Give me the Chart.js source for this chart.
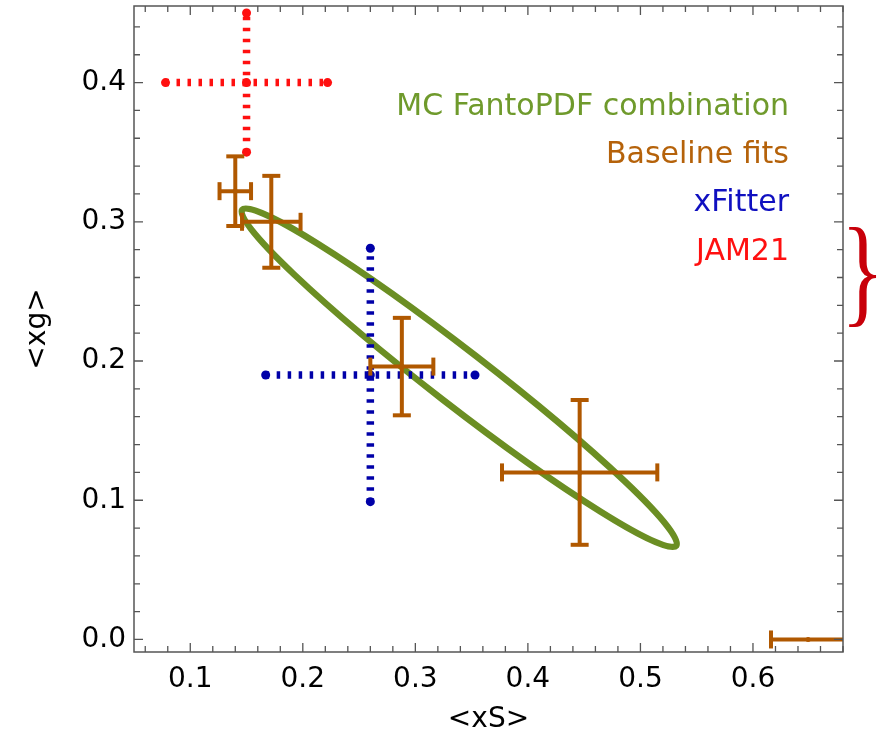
<!DOCTYPE html>
<html>
<head>
<meta charset="utf-8">
<script src="https://cdn.jsdelivr.net/npm/chart.js@4.4.0/dist/chart.umd.min.js"></script>
<style>
  html, body { margin: 0; padding: 0; background: #fff; }
  #wrap { width: 895px; height: 741px; position: relative; }
</style>
</head>
<body>
<div id="wrap"><canvas id="chart"></canvas></div>
<script>
// Baseline fits (orange crosses)
const baseX    = [0.140, 0.172, 0.288, 0.446, 0.649];
const baseY    = [0.322, 0.300, 0.196, 0.120, 0.000];
const baseXErr = [0.014, 0.026, 0.028, 0.069, 0.033];
const baseYErr = [0.025, 0.033, 0.035, 0.052, 0.000];

// xFitter (blue dotted cross)
const xfX = [0.260], xfY = [0.190], xfXErr = [0.093], xfYErr = [0.091];

// JAM21 (red dotted cross)
const jamX = [0.150], jamY = [0.400], jamXErr = [0.072], jamYErr = [0.050];

// MC FantoPDF combination ellipse: centre and the two semi-axis vectors
const ellCentre = [0.339, 0.188];
const ellMajor  = [0.1928, -0.1206];
const ellMinor  = [-0.0150, -0.0155];

const legendLabels = ['MC FantoPDF combination', 'Baseline fits', 'xFitter', 'JAM21'];
const legendColors = ['#6f9a2c', '#b5620a', '#1010c0', '#ff1010'];

const xTicks = [0.1, 0.2, 0.3, 0.4, 0.5, 0.6];
const yTicks = [0.0, 0.1, 0.2, 0.3, 0.4];

const orange = '#b05800', blue = '#0000a8', red = '#ff1010', green = '#6b8e23';
const FONT = 'DejaVu Sans';

// build one dataset per error bar
function errorBars(xs, ys, xe, ye, st) {
  const sets = [];
  xs.forEach((x, i) => {
    const y = ys[i];
    if (ye[i] > 0) {
      sets.push(Object.assign({
        data: [{x: x, y: y - ye[i]}, {x: x, y: y + ye[i]}],
        pointRotation: 0
      }, st));
    }
    if (xe[i] > 0) {
      sets.push(Object.assign({
        data: [{x: x - xe[i], y: y}, {x: x + xe[i], y: y}],
        pointRotation: 90
      }, st));
    }
    sets.push({
      data: [{x: x, y: y}], showLine: false,
      pointRadius: st.dotted ? 4.5 : 2.5, pointBackgroundColor: st.borderColor,
      pointBorderWidth: 0
    });
  });
  return sets;
}

const solidStyle = {
  showLine: true, borderColor: orange, borderWidth: 4,
  pointStyle: 'line', pointRadius: 9, pointBorderColor: orange, pointBorderWidth: 4
};
const dotStyle = c => ({
  dotted: true, showLine: true, borderColor: c, borderWidth: 7.5, borderDash: [3.5, 7.5],
  borderCapStyle: 'butt', pointStyle: 'circle', pointRadius: 4.5,
  pointBackgroundColor: c, pointBorderWidth: 0
});

const datasets = [].concat(
  errorBars(baseX, baseY, baseXErr, baseYErr, solidStyle),
  errorBars(xfX, xfY, xfXErr, xfYErr, dotStyle(blue)),
  errorBars(jamX, jamY, jamXErr, jamYErr, dotStyle(red))
);

const ellipsePlugin = {
  id: 'ellipse',
  beforeDatasetsDraw(chart) {
    const {ctx, scales: {x, y}} = chart;
    const cx = x.getPixelForValue(ellCentre[0]), cy = y.getPixelForValue(ellCentre[1]);
    const ax = x.getPixelForValue(ellCentre[0] + ellMajor[0]) - cx;
    const ay = y.getPixelForValue(ellCentre[1] + ellMajor[1]) - cy;
    const bx = x.getPixelForValue(ellCentre[0] + ellMinor[0]) - cx;
    const by = y.getPixelForValue(ellCentre[1] + ellMinor[1]) - cy;
    ctx.save();
    ctx.beginPath();
    ctx.save();
    ctx.transform(ax, ay, bx, by, cx, cy);
    ctx.arc(0, 0, 1, 0, 2 * Math.PI);
    ctx.restore();
    ctx.lineWidth = 6.5;
    ctx.strokeStyle = green;
    ctx.stroke();
    ctx.restore();
  }
};

// frame, inward ticks, legend, axis titles, brace
const decorPlugin = {
  id: 'decor',
  afterDraw(chart) {
    const {ctx, chartArea: a, scales: {x, y}} = chart;
    ctx.save();
    ctx.strokeStyle = '#555';
    ctx.lineWidth = 1.5;
    ctx.strokeRect(a.left, a.top, a.right - a.left, a.bottom - a.top);
    ctx.lineWidth = 1.3;
    ctx.beginPath();
    for (let v = 0.06; v <= 0.681; v += 0.02) {
      const px = x.getPixelForValue(v);
      const len = Math.abs(v * 10 - Math.round(v * 10)) < 0.01 ? 9 : 6;
      ctx.moveTo(px, a.bottom); ctx.lineTo(px, a.bottom - len);
      ctx.moveTo(px, a.top); ctx.lineTo(px, a.top + len);
    }
    for (let v = 0; v <= 0.451; v += 0.02) {
      const py = y.getPixelForValue(v);
      const len = Math.abs(v * 10 - Math.round(v * 10)) < 0.01 ? 9 : 6;
      ctx.moveTo(a.left, py); ctx.lineTo(a.left + len, py);
      ctx.moveTo(a.right, py); ctx.lineTo(a.right - len, py);
    }
    ctx.stroke();

    // legend text
    ctx.font = '30px "' + FONT + '"';
    ctx.textAlign = 'right';
    ctx.textBaseline = 'alphabetic';
    const base = [115, 163, 211, 260];
    legendLabels.forEach((t, i) => {
      ctx.fillStyle = legendColors[i];
      ctx.fillText(t, 789, base[i]);
    });

    // axis titles
    ctx.fillStyle = '#000';
    ctx.font = '28px "' + FONT + '"';
    ctx.textAlign = 'center';
    ctx.textBaseline = 'middle';
    ctx.fillText('<xS>', (a.left + a.right) / 2, 720);
    ctx.save();
    ctx.translate(38, (a.top + a.bottom) / 2);
    ctx.rotate(-Math.PI / 2);
    ctx.fillText('<xg>', 0, 0);
    ctx.restore();

    // red brace to the right of the frame
    ctx.font = '100px "Liberation Serif"';
    ctx.textAlign = 'left';
    ctx.textBaseline = 'alphabetic';
    const m = ctx.measureText('}');
    const w = m.actualBoundingBoxRight + m.actualBoundingBoxLeft;
    const h = m.actualBoundingBoxAscent + m.actualBoundingBoxDescent;
    const bx0 = 849, bx1 = 876, by0 = 226, by1 = 327;
    ctx.translate(bx0, by0);
    ctx.scale((bx1 - bx0) / w, (by1 - by0) / h);
    ctx.fillStyle = '#c8000a';
    ctx.fillText('}', m.actualBoundingBoxLeft, m.actualBoundingBoxAscent);
    ctx.restore();
  }
};

new Chart(document.getElementById('chart').getContext('2d'), {
  type: 'scatter',
  data: { datasets: datasets },
  options: {
    responsive: true,
    maintainAspectRatio: false,
    animation: false,
    events: [],
    layout: { autoPadding: false, padding: { top: 6, right: 52, left: 0, bottom: 0 } },
    plugins: { legend: { display: false }, tooltip: { enabled: false } },
    scales: {
      x: {
        type: 'linear', min: 0.05, max: 0.68,
        afterBuildTicks: s => { s.ticks = xTicks.map(v => ({value: v})); },
        afterFit: s => { s.height = 89; s.paddingLeft = 0; s.paddingRight = 0; },
        ticks: {
          callback: v => v.toFixed(1), color: '#000', padding: 11,
          maxRotation: 0, autoSkip: false, font: { family: FONT, size: 28 }
        },
        grid: { display: false, drawTicks: false },
        border: { display: false }
      },
      y: {
        type: 'linear', min: -0.009, max: 0.455,
        afterBuildTicks: s => { s.ticks = yTicks.map(v => ({value: v})); },
        afterFit: s => { s.width = 134; s.paddingTop = 0; s.paddingBottom = 0; },
        ticks: {
          callback: v => v.toFixed(1), color: '#000', padding: 8,
          autoSkip: false, font: { family: FONT, size: 28 }
        },
        grid: { display: false, drawTicks: false },
        border: { display: false }
      }
    }
  },
  plugins: [ellipsePlugin, decorPlugin]
});
</script>
</body>
</html>
